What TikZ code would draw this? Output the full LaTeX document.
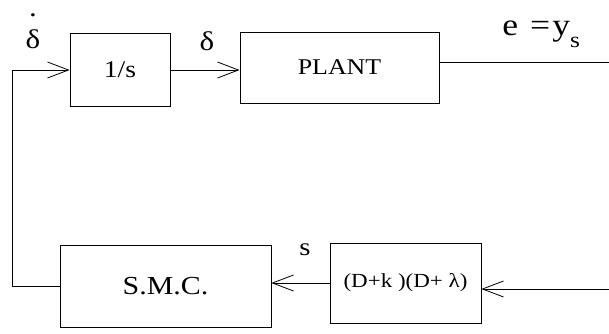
\documentclass[tikz,border=0pt]{standalone}
\usepackage{fontspec}
\setmainfont{Liberation Serif}
\usetikzlibrary{arrows.meta, positioning, calc}
\tikzset{>=Latex}

% breite Schrift wie im Original
\newfontfamily\breit[FakeStretch=1.15]{Liberation Serif}

\begin{document}
\begin{tikzpicture}[x=1pt, y=-1pt, line width=0.8pt,
    >={Straight Barb[length=21pt, width=16pt]},
    block/.style={draw, inner sep=0pt},
    beschr/.style={inner sep=0pt}]

         % Rahmen des Bildes
         \useasboundingbox (0,0) rectangle (609,333);

         % Integrator
         \node[block, minimum width=100pt, minimum height=73pt,
               font=\breit\fontsize{24}{26}\selectfont] (integ) at (120,70) {1/s};

         % Strecke
         \node[block, minimum width=199pt, minimum height=71pt,
               font=\breit\fontsize{22.5}{26}\selectfont] (plant) at (339.5,67.5) {PLANT\hspace{34pt}};

         % Regler
         \node[block, minimum width=211pt, minimum height=82pt,
               font=\breit\fontsize{26}{30}\selectfont] (smc) at (165.5,286) {S.M.C.};

         % Filter
         \node[block, minimum width=151pt, minimum height=80pt,
               font=\breit\fontsize{20}{22}\selectfont] (filt) at (405.5,283) {(D+k )(D+ λ)};

         % Hilfspunkte am Rand
         \coordinate (aus) at (609,62);
         \coordinate (ein) at (609,289);
         \coordinate (links) at (12,287);

         % Signalwege
         \draw[->] (integ.east) -- (integ.east -| plant.west);
         \draw (plant.east |- aus) -- (aus);
         \draw[->] (ein) -- (ein -| filt.east);
         \draw[->] (filt.west) -- (filt.west -| smc.east);
         \draw[->] (smc.west) -- (smc.west -| links) |- (integ.west);

         % Beschriftungen
         \node[beschr, anchor=base, font=\breit\fontsize{27}{27}\selectfont]
            (ddelta) at (33,48) {\ooalign{δ\cr\hidewidth\raisebox{32pt}{.}\hidewidth}};
         \node[beschr, font=\breit\fontsize{27}{27}\selectfont] (delta) at (207,41) {δ};
         \node[beschr, anchor=base west, font=\breit\fontsize{31}{32}\selectfont] (e) at (502,35)
            {e\hspace{12pt}=\hspace{2pt}y\raisebox{-12pt}{\fontsize{22}{22}\selectfont s}};
         \node[beschr, font=\breit\fontsize{25}{26}\selectfont] (s) at (305,250) {s};

\end{tikzpicture}
\end{document}
